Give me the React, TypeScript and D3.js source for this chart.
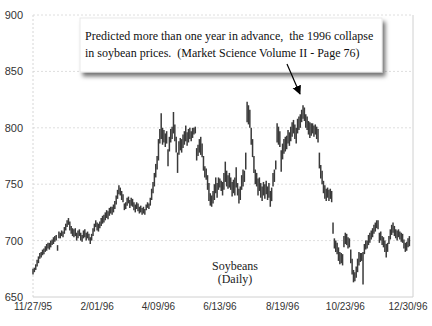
import React from "react";
import * as d3 from "d3";

const highs: number[] = [
  675,676,679,683,686,689,690,692,693,695,
  697,698,698,700,701,703,704,705,696,708,
  707,709,708,712,715,718,720,717,713,711,
  710,711,707,709,710,707,705,709,710,707,
  708,706,703,706,711,715,718,716,715,717,
  720,722,723,725,727,726,729,730,730,732,
  735,740,745,749,747,744,741,733,734,738,
  739,736,738,737,734,732,734,733,730,731,
  729,730,728,732,734,733,738,746,752,760,
  768,775,790,799,813,800,798,795,797,781,
  792,799,801,814,803,792,778,788,791,790,
  794,797,802,796,799,800,797,800,800,801,
  782,785,790,792,786,775,766,764,758,751,
  742,740,744,750,756,751,756,755,753,752,
  760,770,762,758,760,756,752,754,756,765,
  751,746,748,758,763,762,778,823,820,816,
  800,790,775,763,760,755,756,751,748,752,
  750,753,748,751,744,747,760,763,771,804,
  801,797,780,786,790,792,793,798,796,801,
  805,807,803,800,808,810,812,816,820,818,
  812,810,806,805,804,804,802,803,801,799,
  778,767,762,753,749,746,747,745,746,744,
  716,702,700,698,694,690,689,688,704,707,
  706,703,702,692,684,674,672,677,684,690,
  689,689,690,697,700,700,705,707,709,711,
  714,716,718,718,707,708,704,703,700,697,
  698,704,710,714,716,713,710,709,710,708,
  707,706,701,698,699,702,704,
];

const lows: number[] = [
  670,672,674,677,680,684,685,687,688,690,
  691,693,692,694,696,697,699,700,691,702,
  702,704,703,706,709,712,714,709,706,704,
  703,704,700,702,704,700,699,702,703,700,
  702,700,697,700,704,708,712,709,708,711,
  713,715,716,718,720,719,722,724,723,725,
  728,732,737,741,740,736,734,727,728,731,
  733,729,731,730,727,725,728,726,724,725,
  723,724,723,727,729,728,731,736,742,748,
  756,763,771,786,790,785,787,783,786,766,
  779,787,790,795,788,778,760,776,780,778,
  782,785,788,784,787,790,788,791,794,795,
  771,775,778,776,774,762,756,754,745,735,
  731,730,733,736,742,738,745,747,744,740,
  745,752,748,746,747,745,739,742,740,747,
  740,733,736,745,748,752,763,805,803,800,
  785,774,760,750,748,740,744,738,735,740,
  737,741,736,738,730,735,748,752,763,787,
  785,783,761,772,777,779,781,786,784,788,
  792,795,790,786,795,798,800,805,808,806,
  800,798,794,791,793,795,792,794,790,787,
  764,755,750,742,737,735,738,735,737,734,
  706,693,690,688,682,679,680,678,694,697,
  696,693,694,680,670,663,664,667,672,678,
  681,682,661,688,692,693,696,698,701,703,
  706,708,711,710,698,700,696,694,690,685,
  690,697,701,705,707,704,702,700,703,701,
  699,698,693,690,691,694,695,
];

const tickIndex: number[] = [0, 47, 92, 137, 183, 229, 275];
const tickLabels: string[] = ["11/27/95", "2/01/96", "4/09/96", "6/13/96", "8/19/96", "10/23/96", "12/30/96"];
const yTicks: number[] = [650, 700, 750, 800, 850, 900];
const noteLines: string[] = [
  "Predicted more than one year in advance,  the 1996 collapse",
  "in soybean prices.  (Market Science Volume II - Page 76)",
];
const titleLines: string[] = ["Soybeans", "(Daily)"];

export default function App() {
  const W = 432, H = 326;
  const x0 = 33, x1 = 409.4, plotRight = 413;
  const yTop = 15, yBot = 297;
  const x = d3.scaleLinear().domain([0, highs.length - 1]).range([x0, x1]);
  const y = d3.scaleLinear().domain([650, 900]).range([yBot, yTop]);
  const sans = "'Liberation Sans', Arial, sans-serif";
  const serif = "'Liberation Serif', 'Times New Roman', serif";

  return (
    <svg width={W} height={H} style={{ position: "absolute", left: 0, top: 0, background: "#fff" }}>
      <defs>
        <filter id="shadow" x="-10%" y="-30%" width="130%" height="180%">
          <feDropShadow dx="3" dy="4" stdDeviation="2" floodColor="#000" floodOpacity="0.55" />
        </filter>
        <marker id="arrow" viewBox="0 0 10 10" refX="9" refY="5" markerWidth="9" markerHeight="11" orient="auto" markerUnits="userSpaceOnUse">
          <path d="M0,0 L10,5 L0,10 z" fill="#000" />
        </marker>
      </defs>

      {yTicks.filter(t => t > 650).map(t => (
        <line key={"g" + t} x1={x0} x2={plotRight} y1={y(t)} y2={y(t)} stroke="#dedede" strokeWidth={1} strokeDasharray="2,2" />
      ))}
      <line x1={x0} x2={x0} y1={yTop} y2={yBot} stroke="#d6d6d6" strokeWidth={1} strokeDasharray="2,2" />
      <line x1={plotRight} x2={plotRight} y1={yTop} y2={yBot} stroke="#d0d0d0" strokeWidth={1} />
      <line x1={x0} x2={plotRight} y1={yBot} y2={yBot} stroke="#d0d0d0" strokeWidth={1} />

      {yTicks.map(t => (
        <text key={"y" + t} x={23} y={y(t) + 4} textAnchor="end" fontFamily={sans} fontSize={11} fill="#333">{t}</text>
      ))}
      {tickIndex.map((ti, k) => (
        <text key={"x" + k} x={x(ti)} y={310} textAnchor="middle" fontFamily={sans} fontSize={10} fill="#333">{tickLabels[k]}</text>
      ))}

      {highs.map((h, i) => (
        <line key={"b" + i} x1={x(i)} x2={x(i)} y1={y(h)} y2={y(lows[i])} stroke="#3a3a3a" strokeWidth={1.5} />
      ))}

      {titleLines.map((t, k) => (
        <text key={"t" + k} x={235} y={270 + k * 13} textAnchor="middle" fontFamily={serif} fontSize={12} fill="#222">{t}</text>
      ))}

      <rect x={80} y={18} width={302} height={54} fill="#fff" stroke="#e4e4e4" strokeWidth={0.8} filter="url(#shadow)" />
      {noteLines.map((t, k) => (
        <text key={"n" + k} x={85} y={40 + k * 17} fontFamily={serif} fontSize={12} fill="#111" style={{ whiteSpace: "pre" }}>{t}</text>
      ))}
      <line x1={287} y1={64} x2={300} y2={94} stroke="#000" strokeWidth={1.2} markerEnd="url(#arrow)" />
    </svg>
  );
}
